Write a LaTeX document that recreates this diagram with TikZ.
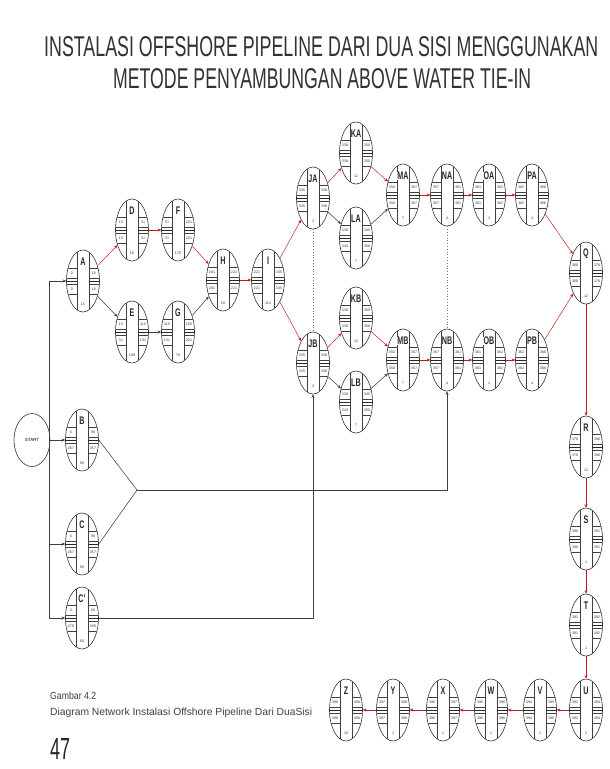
\documentclass[tikz,border=0pt]{standalone}
\usepackage{fontspec}
\usepackage{graphicx}
\setmainfont{Liberation Sans}
\usetikzlibrary{shapes.geometric,arrows.meta}
\tikzset{
  act/.style={ellipse,draw=black!80,line width=0.6pt,minimum width=33pt,minimum height=62pt,inner sep=0pt,fill=white},
  inln/.style={draw=black!75,line width=0.4pt},
  midln/.style={draw=black!85,line width=0.9pt},
  crit/.style={draw=red!75!black!90,line width=0.45pt,-{Stealth[length=3.5pt,width=3pt]}},
  norm/.style={draw=black!75,line width=0.55pt,-{Stealth[length=3.5pt,width=3pt]}},
  plain/.style={draw=black!75,line width=0.55pt},
  dotln/.style={draw=black!55,line width=0.8pt,dotted},
  num/.style={font=\fontsize{3.6}{4}\selectfont,inner sep=0pt,text=black!80},
  lbl/.style={font=\fontsize{11}{11}\selectfont\bfseries,inner sep=0pt,text=black!85},
}
\newcommand\act[9]{%
  \node[act] (#1) at (#2,#3) {};
  \begin{scope}[shift={(#2,#3)}]
    \clip (0,0) ellipse [x radius=16.2, y radius=30.7];
    \draw[inln] (-6,-32) -- (-6,32) (6,-32) -- (6,32);
    \draw[inln] (-17,-13) -- (-6,-13) (-17,-3) -- (-6,-3) (-17,3) -- (-6,3) (-17,13) -- (-6,13);
    \draw[inln] (17,-13) -- (6,-13) (17,-3) -- (6,-3) (17,3) -- (6,3) (17,13) -- (6,13);
    \draw[midln] (-17,0) -- (-6,0) (6,0) -- (17,0);
    \node[lbl,fill=white,inner xsep=0.3pt] at (0,-19) {\scalebox{0.65}[1]{#4}};
    \node[num] at (0,23) {#5};
    \node[num] at (-11,-8) {#6};
    \node[num] at (11,-8) {#7};
    \node[num] at (-11,8) {#8};
    \node[num] at (11,8) {#9};
  \end{scope}
}
\begin{document}
\begin{tikzpicture}[x=1pt,y=-1pt]
\useasboundingbox[fill=white] (0,0) rectangle (610,769);
% title
\node[anchor=north west,inner sep=0pt,text=black!80] (t1) at (44,36) {\resizebox{554pt}{20pt}{INSTALASI OFFSHORE PIPELINE DARI DUA SISI MENGGUNAKAN}};
\node[anchor=north west,inner sep=0pt,text=black!80] (t2) at (113,68) {\resizebox{418pt}{20pt}{METODE PENYAMBUNGAN ABOVE WATER TIE-IN}};
% caption
\node[anchor=north west,inner sep=0pt,text=black!75] (c1) at (50,692) {\resizebox{46pt}{7.5pt}{Gambar 4.2}};
\node[anchor=north west,inner sep=0pt,text=black!75] (c2) at (50,708) {\resizebox{262pt}{7.5pt}{Diagram Network Instalasi Offshore Pipeline Dari DuaSisi}};
\node[anchor=north west,inner sep=0pt,text=black!85] (c3) at (50,738) {\resizebox{20pt}{21pt}{47}};
% start
\node[ellipse,draw=black!80,line width=0.6pt,minimum width=36pt,minimum height=53pt,inner sep=0pt,font=\fontsize{4.5}{4.5}\selectfont] (START) at (32,440) {START};
% activities
\act{A}{83}{281}{A}{15}{0}{15}{0}{15}
\act{D}{132}{230}{D}{16}{15}{31}{15}{31}
\act{F}{178}{230}{F}{170}{31}{201}{31}{201}
\act{E}{132}{332}{E}{100}{15}{115}{31}{131}
\act{G}{178}{332}{G}{70}{115}{185}{131}{201}
\act{H}{223}{280}{H}{20}{201}{221}{201}{221}
\act{I}{268}{280}{I}{114}{221}{335}{221}{335}
\act{JA}{313}{198}{JA}{3}{335}{338}{335}{338}
\act{KA}{356}{153}{KA}{12}{338}{350}{338}{350}
\act{LA}{356}{238}{LA}{7}{338}{345}{343}{350}
\act{MA}{403}{195}{MA}{7}{350}{357}{350}{357}
\act{NA}{447}{195}{NA}{4}{357}{361}{357}{361}
\act{OA}{489}{195}{OA}{1}{361}{362}{361}{362}
\act{PA}{532}{195}{PA}{4}{362}{366}{362}{366}
\act{Q}{586}{273}{Q}{12}{366}{378}{366}{378}
\act{JB}{313}{363}{JB}{3}{335}{338}{335}{338}
\act{KB}{356}{318}{KB}{12}{338}{350}{338}{350}
\act{LB}{356}{402}{LB}{7}{338}{345}{343}{350}
\act{MB}{403}{360}{MB}{7}{350}{357}{350}{357}
\act{NB}{447}{360}{NB}{4}{357}{361}{357}{361}
\act{OB}{489}{360}{OB}{1}{361}{362}{361}{362}
\act{PB}{532}{360}{PB}{4}{362}{366}{362}{366}
\act{R}{586}{447}{R}{12}{378}{390}{378}{390}
\act{S}{586}{539}{S}{1}{390}{391}{390}{391}
\act{T}{586}{625}{T}{1}{391}{392}{391}{392}
\act{U}{586}{710}{U}{2}{392}{394}{392}{394}
\act{V}{540}{710}{V}{1}{394}{395}{394}{395}
\act{W}{491}{710}{W}{1}{395}{396}{395}{396}
\act{X}{443}{710}{X}{1}{396}{397}{396}{397}
\act{Y}{393}{710}{Y}{1}{397}{398}{397}{398}
\act{Z}{346}{710}{Z}{10}{398}{408}{398}{408}
\act{B}{82}{440}{B}{90}{0}{90}{267}{357}
\act{C}{82}{544}{C}{90}{0}{90}{267}{357}
\act{Cp}{82}{618}{C'}{60}{0}{60}{275}{335}
% left bus
\coordinate (vt) at (49,281);
\coordinate (vc) at (49,544);
\coordinate (vb) at (49,618);
\draw[plain] (vt) -- (vb);
\draw[norm] (vt) -- (A);
\draw[norm] (START) -- (B);
\draw[norm] (vc) -- (C);
\draw[norm] (vb) -- (Cp);
% merge B, C -> NB
\coordinate (mg) at (137,490);
\draw[plain] (B.east) -- (mg) -- (C.east);
\draw[norm] (mg) -- (mg -| NB) -- (NB);
\draw[norm] (Cp.east) -- (Cp.east -| JB) -- (JB);
% upper network
\draw[crit] (A) -- (D);
\draw[norm] (A) -- (E);
\draw[crit] (D) -- (F);
\draw[norm] (E) -- (G);
\draw[crit] (F) -- (H);
\draw[norm] (G) -- (H);
\draw[crit] (H) -- (I);
\draw[crit] (I) -- (JA);
\draw[crit] (I) -- (JB);
\draw[crit] (JA) -- (KA);
\draw[norm] (JA) -- (LA);
\draw[crit] (KA) -- (MA);
\draw[norm] (LA) -- (MA);
\draw[crit] (MA) -- (NA);
\draw[crit] (NA) -- (OA);
\draw[crit] (OA) -- (PA);
\draw[crit] (PA) -- (Q);
\draw[crit] (JB) -- (KB);
\draw[norm] (JB) -- (LB);
\draw[crit] (KB) -- (MB);
\draw[norm] (LB) -- (MB);
\draw[crit] (MB) -- (NB);
\draw[crit] (NB) -- (OB);
\draw[crit] (OB) -- (PB);
\draw[crit] (PB) -- (Q);
\draw[dotln] (JA) -- (JB);
\draw[dotln] (NA) -- (NB);
% right column and bottom row
\draw[crit] (Q) -- (R);
\draw[crit] (R) -- (S);
\draw[crit] (S) -- (T);
\draw[crit] (T) -- (U);
\draw[crit] (U) -- (V);
\draw[crit] (V) -- (W);
\draw[crit] (W) -- (X);
\draw[crit] (X) -- (Y);
\draw[crit] (Y) -- (Z);
\end{tikzpicture}
\end{document}
